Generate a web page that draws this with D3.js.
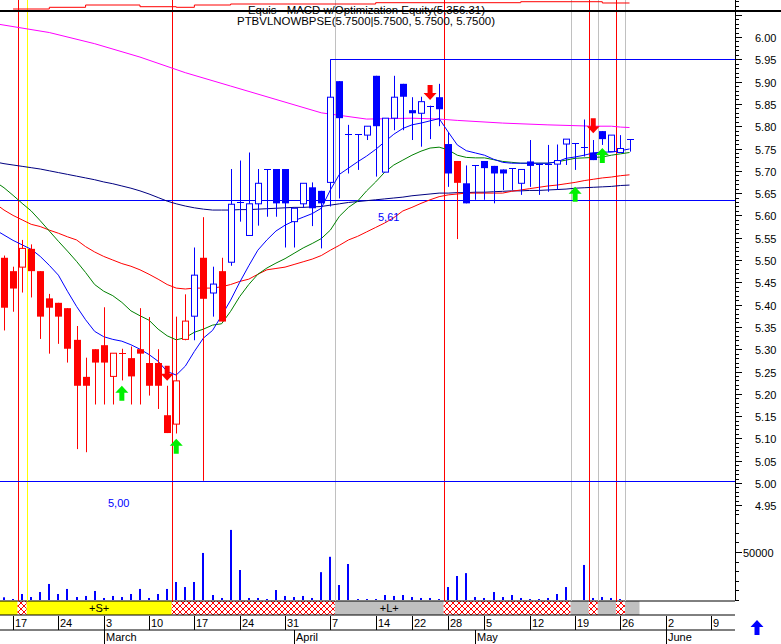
<!DOCTYPE html>
<html><head><meta charset="utf-8">
<script src="https://cdn.jsdelivr.net/npm/d3@7/dist/d3.min.js"></script>
<style>body{margin:0;background:#fff}svg{display:block;font-family:Arial,"Liberation Sans",sans-serif}</style>
</head><body><svg id="c" width="781" height="644"></svg>
<script>
// ---------- DATA ----------
const dates = ["02-14","02-17","02-18","02-19","02-20","02-21","02-24","02-25","02-26","02-27","02-28",
"03-03","03-04","03-05","03-06","03-07","03-10","03-11","03-12","03-13","03-14","03-17","03-18","03-19","03-20","03-21","03-24","03-25","03-26","03-27","03-28","03-31",
"04-01","04-02","04-03","04-04","04-07","04-08","04-09","04-10","04-11","04-14","04-15","04-16","04-17","04-22","04-23","04-24","04-25","04-28","04-29","04-30",
"05-02","05-05","05-06","05-07","05-08","05-09","05-12","05-13","05-14","05-15","05-16","05-19","05-20","05-21","05-22","05-23","05-26","05-27","05-28","05-29","05-30",
"06-02","06-03","06-04","06-05","06-06","06-09"];
const monthNames = {"03":"March","04":"April","05":"May","06":"June"};

const open  = [5.505,5.475,5.484,5.525,5.475,5.414,5.404,5.392,5.321,5.238,5.300,5.309,5.239,5.291,5.280,5.300,5.269,5.269,5.152,5.132,
5.322,5.374,5.505,5.426,5.475,5.495,5.629,5.555,5.626,5.704,5.704,5.704,5.586,5.626,5.663,5.655,5.674,5.901,5.782,5.782,
5.780,5.913,5.697,5.818,5.895,5.836,5.829,5.846,5.865,5.760,5.722,5.672,5.712,5.722,5.711,5.703,5.706,5.672,5.721,5.715,
5.715,5.715,5.760,5.762,5.753,5.741,5.789,5.743,5.741,5.771];
const high  = [5.510,5.485,5.545,5.535,5.475,5.424,5.404,5.392,5.352,5.281,5.300,5.394,5.291,5.301,5.306,5.392,5.372,5.300,5.218,5.373,
5.423,5.528,5.596,5.485,5.505,5.704,5.723,5.741,5.704,5.704,5.704,5.704,5.616,5.672,5.674,5.655,5.950,5.901,5.803,5.782,
5.800,5.913,5.818,5.913,5.895,5.865,5.866,5.846,5.895,5.786,5.722,5.712,5.712,5.722,5.711,5.703,5.706,5.703,5.769,5.715,
5.758,5.759,5.771,5.762,5.815,5.769,5.789,5.780,5.780,5.771];
const low   = [5.342,5.384,5.427,5.416,5.323,5.290,5.312,5.270,5.076,5.069,5.176,5.176,5.176,5.230,5.176,5.176,5.196,5.166,5.112,5.111,
5.320,5.320,5.005,5.373,5.362,5.487,5.586,5.555,5.577,5.597,5.597,5.528,5.528,5.617,5.576,5.526,5.620,5.638,5.694,5.702,
5.769,5.687,5.697,5.791,5.791,5.769,5.754,5.771,5.800,5.664,5.547,5.627,5.635,5.635,5.627,5.657,5.657,5.646,5.664,5.646,
5.653,5.657,5.713,5.702,5.732,5.724,5.758,5.743,5.741,5.743];
const close = [5.393,5.436,5.526,5.475,5.373,5.393,5.373,5.301,5.218,5.218,5.270,5.270,5.291,5.291,5.239,5.290,5.218,5.218,5.112,5.229,
5.363,5.466,5.413,5.446,5.362,5.625,5.629,5.626,5.672,5.704,5.627,5.627,5.616,5.672,5.616,5.627,5.865,5.818,5.782,5.782,
5.800,5.800,5.818,5.865,5.866,5.829,5.855,5.846,5.838,5.694,5.673,5.627,5.712,5.706,5.694,5.694,5.706,5.703,5.711,5.715,
5.715,5.723,5.771,5.762,5.753,5.724,5.771,5.780,5.750,5.771];
const candleTone = ["S","S","S","S","S","S","S","S","S","S","S","S","S","S","S","S","S","S","S","S",
"S","L","S","L","S","L","L","L","L","L","L","L","L","L","L","L","L","L","L","L",
"L","L","L","L","L","L","L","L","L","L","S","L","L","L","L","L","L","L","L","L",
"L","L","L","L","L","L","L","L","L","L"];
const volume = [2800,1000,6250,3100,8300,16700,6250,11500,3100,4200,9400,2100,4200,3100,6250,11500,2100,6250,11500,18750,
13500,18750,49000,5200,2100,73000,31250,2100,2100,1000,10400,4200,3100,4200,2100,29000,45000,15600,37500,1000,
1000,1000,5200,4200,5200,3100,2100,2100,1000,13500,25000,28000,3100,2100,8300,3100,5200,2100,1000,1000,
2100,6250,13500,0,36500,2100,3100,2100,1000,0];

// moving averages, first value belongs to the day before the first date
const maFast = [5.568,5.556,5.544,5.534,5.524,5.508,5.488,5.466,5.43,5.396,5.366,5.340,5.328,5.322,5.318,5.31,5.300,5.288,5.273,5.250,5.242,
5.262,5.295,5.325,5.342,5.375,5.41,5.45,5.487,5.522,5.545,5.565,5.578,5.588,5.596,5.604,5.616,5.657,5.692,5.706,5.720,
5.733,5.748,5.765,5.782,5.795,5.803,5.807,5.812,5.817,5.787,5.758,5.745,5.740,5.735,5.726,5.719,5.717,5.717,5.717,5.717,
5.717,5.72,5.728,5.731,5.735,5.740,5.742,5.742,5.745,5.749];
const maMid = [5.676,5.662,5.645,5.627,5.610,5.588,5.565,5.542,5.52,5.497,5.472,5.445,5.43,5.42,5.405,5.386,5.375,5.365,5.345,5.33,5.321,
5.326,5.338,5.345,5.354,5.357,5.385,5.418,5.445,5.468,5.482,5.493,5.503,5.515,5.527,5.537,5.548,5.567,5.598,5.618,5.632,
5.655,5.675,5.697,5.713,5.724,5.735,5.744,5.751,5.753,5.747,5.735,5.730,5.729,5.729,5.725,5.721,5.719,5.717,5.717,5.717,
5.717,5.72,5.724,5.728,5.729,5.73,5.731,5.735,5.738,5.741];
const maSlow = [5.627,5.612,5.600,5.590,5.580,5.575,5.567,5.560,5.552,5.545,5.530,5.518,5.508,5.500,5.492,5.486,5.478,5.468,5.457,5.445,5.437,
5.435,5.437,5.437,5.437,5.440,5.445,5.452,5.457,5.468,5.478,5.481,5.484,5.49,5.496,5.502,5.510,5.522,5.533,5.545,5.553,
5.563,5.573,5.583,5.595,5.610,5.618,5.627,5.635,5.642,5.646,5.648,5.650,5.650,5.650,5.650,5.650,5.654,5.657,5.66,5.663,
5.666,5.668,5.671,5.674,5.678,5.681,5.684,5.686,5.689,5.691];
const maLong = [5.72,5.716,5.713,5.71,5.707,5.704,5.70,5.696,5.692,5.688,5.684,5.68,5.675,5.671,5.666,5.661,5.655,5.648,5.640,5.632,5.626,
5.621,5.617,5.614,5.612,5.612,5.612,5.613,5.613,5.614,5.615,5.616,5.617,5.618,5.618,5.619,5.620,5.623,5.626,5.629,5.631,
5.633,5.635,5.637,5.639,5.641,5.644,5.646,5.648,5.650,5.650,5.651,5.651,5.652,5.652,5.653,5.654,5.655,5.655,5.656,5.656,
5.657,5.658,5.659,5.661,5.662,5.663,5.664,5.665,5.667,5.668];
const maTopDays = [-1,5,10,15,20,25,30,35,40,45,48,50,55,60,65,67,68,69];
const maTop     = [6.030,6.010,5.985,5.955,5.920,5.890,5.860,5.830,5.816,5.818,5.816,5.813,5.807,5.803,5.800,5.800,5.798,5.797];

const equityDays = [1,5,9,15,19,21,25,41,57,66,69];
const equity     = [4922,5045,5211,5088,5045,5211,5283,5377,5449,5356,5356.31];

const levelSupport = 5.635, levelResist = 5.95, levelFloor = 5.00;
const resistStartDay = 36;

const buyDays = [13,19,63,66],  buyTips  = [5.218,5.099,5.664,5.751];
const sellDays = [18,47,65],    sellTips = [5.229,5.859,5.784];

const signalLineDays  = [1.5,2.5,18.5,36.5,48.5,62.5,64.5,65.5,67.5,68.5];
const signalLineKinds = ["exit","short","exit","long","exit","long","exit","long","exit","long"];

const bandStart = [-1,1.5,2.5,18.5,36.5,48.5,62.5,64.5,65.5,67.5,68.5];
const bandEnd   = [1.5,2.5,18.5,36.5,48.5,62.5,64.5,65.5,67.5,68.5,70.1];
const bandKind  = ["S","X","S","X","L","X","L","X","L","X","L"];
const bandText  = ["","","+S+","","+L+","","","","","",""];

const priceTicks = d3.range(493,609).map(v=>v/100);
const volTicks = [0,10000,20000,30000,40000,50000,60000,70000,80000];

const titleText = "Equis - MACD  w/Optimization Equity(5,356.31)";
const subTitleText = "PTBVLNOWBPSE(5.7500|5.7500, 5.7500, 5.7500)";

// ---------- DRAW ----------
const svg = d3.select("#c");
const RED="#ff0000", BLUE="#0000ff", GRAY="#c0c0c0";
const x = d3.scaleLinear().domain([0,78]).range([4,711.1]);
const y = d3.scaleLinear().domain([5,6]).range([483,37]);
const yVol = d3.scaleLinear().domain([0,50000]).range([600,552]);
const yEq = d3.scaleLinear().domain([4850,5500]).range([10,1]);
const AX = 735;

const defs = svg.append("defs");
const pat = defs.append("pattern").attr("id","hatch").attr("width",6).attr("height",6).attr("patternUnits","userSpaceOnUse");
pat.append("rect").attr("width",6).attr("height",6).attr("fill","#fff");
pat.append("path").attr("d","M0,0L6,6M6,0L0,6M-1,5L1,7M5,-1L7,1").attr("stroke",RED).attr("stroke-width",1);
defs.append("clipPath").attr("id","plot").append("rect").attr("x",0).attr("y",12).attr("width",AX).attr("height",589);

// band
const band = svg.append("g");
bandKind.forEach((k,i)=>{
  const x0 = Math.max(0,x(bandStart[i])), x1 = x(bandEnd[i]);
  band.append("rect").attr("x",x0).attr("y",601).attr("width",x1-x0).attr("height",14)
    .attr("fill", k==="S" ? "#ffff00" : k==="L" ? GRAY : "url(#hatch)");
  if (bandText[i]) band.append("text").attr("x",(x0+x1)/2).attr("y",612).attr("text-anchor","middle")
    .attr("font-size",11).text(bandText[i]);
});
[601,615,630].forEach(v=>svg.append("line").attr("x1",0).attr("x2",AX).attr("y1",v).attr("y2",v).attr("stroke","#000"));

// signal lines
const lineColor = {exit:RED, short:"#ffff00", long:GRAY};
signalLineDays.forEach((d,i)=>{
  svg.append("line").attr("x1",Math.round(x(d))+0.5).attr("x2",Math.round(x(d))+0.5).attr("y1",0).attr("y2",601)
    .attr("stroke",lineColor[signalLineKinds[i]]);
});

// equity curve on top
svg.append("path").datum(equityDays.map((d,i)=>[d,equity[i]]))
  .attr("d", d3.line().x(d=>x(d[0])).y(d=>yEq(d[1])).curve(d3.curveStepAfter))
  .attr("fill","none").attr("stroke",RED);
svg.append("line").attr("x1",0).attr("x2",781).attr("y1",11).attr("y2",11).attr("stroke","#000").attr("stroke-width",2);

const plot = svg.append("g").attr("clip-path","url(#plot)");
// levels
plot.append("line").attr("x1",0).attr("x2",AX).attr("y1",Math.round(y(levelSupport))+0.5).attr("y2",Math.round(y(levelSupport))+0.5).attr("stroke",BLUE);
plot.append("line").attr("x1",0).attr("x2",AX).attr("y1",Math.round(y(levelFloor))-1.5).attr("y2",Math.round(y(levelFloor))-1.5).attr("stroke",BLUE);
plot.append("line").attr("x1",x(resistStartDay)).attr("x2",AX).attr("y1",Math.round(y(levelResist))+0.5).attr("y2",Math.round(y(levelResist))+0.5).attr("stroke",BLUE);
svg.append("text").attr("x",378).attr("y",y(levelSupport)+21).attr("fill",BLUE).attr("font-size",11).text("5,61");
svg.append("text").attr("x",108).attr("y",y(levelFloor)+24).attr("fill",BLUE).attr("font-size",11).text("5,00");

// MAs
const lineFn = d3.line().x(d=>x(d[0])).y(d=>y(d[1]));
const maSeries = [[maLong,"#000080"],[maSlow,RED],[maMid,"#008000"],[maFast,BLUE]];
plot.append("path").datum(maTopDays.map((d,i)=>[d,maTop[i]])).attr("d",lineFn).attr("fill","none").attr("stroke","#ff00ff");
maSeries.forEach(([arr,c])=>{
  plot.append("path").datum(arr.map((v,i)=>[i-1,v])).attr("d",lineFn).attr("fill","none").attr("stroke",c);
});

// candles
const cg = plot.append("g");
open.forEach((o,i)=>{
  const c = close[i], col = candleTone[i]==="S" ? RED : BLUE;
  const cx = Math.round(x(i))+0.5;
  cg.append("line").attr("x1",cx).attr("x2",cx).attr("y1",y(high[i])).attr("y2",y(low[i])).attr("stroke",col);
  const top = y(Math.max(o,c)), bot = y(Math.min(o,c));
  if (Math.abs(o-c) < 0.001) {
    cg.append("line").attr("x1",cx-3.5).attr("x2",cx+3.5).attr("y1",Math.round(top)+0.5).attr("y2",Math.round(top)+0.5).attr("stroke",col);
  } else if (c > o) {
    cg.append("rect").attr("x",cx-3).attr("y",top).attr("width",6).attr("height",bot-top).attr("fill","#fff").attr("stroke",col);
  } else {
    cg.append("rect").attr("x",cx-3.5).attr("y",top).attr("width",7).attr("height",bot-top).attr("fill",col);
  }
});

// arrows
function upArrow(cx,ty){return `M${cx},${ty}L${cx+6.5},${ty+7}L${cx+2.5},${ty+7}L${cx+2.5},${ty+15}L${cx-2.5},${ty+15}L${cx-2.5},${ty+7}L${cx-6.5},${ty+7}Z`;}
function downArrow(cx,by){return `M${cx},${by}L${cx+6.5},${by-7}L${cx+2.5},${by-7}L${cx+2.5},${by-15}L${cx-2.5},${by-15}L${cx-2.5},${by-7}L${cx-6.5},${by-7}Z`;}
buyDays.forEach((d,i)=>svg.append("path").attr("d",upArrow(x(d),y(buyTips[i]))).attr("fill","#00f000"));
sellDays.forEach((d,i)=>svg.append("path").attr("d",downArrow(x(d),y(sellTips[i]))).attr("fill",RED));

// volume
volume.forEach((v,i)=>{ if(!v) return;
  svg.append("rect").attr("x",Math.round(x(i))-1).attr("y",yVol(v)).attr("width",2).attr("height",yVol(0)-yVol(v)).attr("fill",BLUE);
});

// right axis
svg.append("line").attr("x1",AX+0.5).attr("x2",AX+0.5).attr("y1",0).attr("y2",601).attr("stroke","#000");
priceTicks.forEach(p=>{
  const yy = Math.round(y(p))+0.5, major = Math.round(p*100)%5===0;
  if (yy<0||yy>520) return;
  svg.append("line").attr("x1",AX).attr("x2",AX+(major?7:4)).attr("y1",yy).attr("y2",yy).attr("stroke","#000");
  if (major && p<=6.0001 && p>=4.9499) svg.append("text").attr("x",755).attr("y",yy+4).attr("font-size",11).text(p.toFixed(2));
});
volTicks.forEach(v=>{
  const yy = Math.round(yVol(v))+0.5;
  svg.append("line").attr("x1",AX).attr("x2",AX+(v===50000?7:4)).attr("y1",yy).attr("y2",yy).attr("stroke","#000");
  if (v===50000) svg.append("text").attr("x",743).attr("y",yy+4).attr("font-size",11).text("50000");
});

// date axis
dates.forEach((d,i)=>{
  if (i===0) return;
  const prev = new Date("2003-"+dates[i-1]), cur = new Date("2003-"+d);
  const xx = Math.round(x(i))+0.5;
  if ((cur-prev)/864e5 >= 3) {
    svg.append("line").attr("x1",xx).attr("x2",xx).attr("y1",616).attr("y2",630).attr("stroke","#000");
    svg.append("text").attr("x",xx+1.5).attr("y",627).attr("font-size",11).text(+d.slice(3));
  }
  if (d.slice(0,2)!==dates[i-1].slice(0,2)) {
    svg.append("line").attr("x1",xx).attr("x2",xx).attr("y1",630).attr("y2",644).attr("stroke","#000");
    svg.append("text").attr("x",xx+1.5).attr("y",641).attr("font-size",11).text(monthNames[d.slice(0,2)]);
  }
});
svg.append("path").attr("d",upArrow(757,620)).attr("fill",BLUE);

// titles
svg.append("text").attr("x",248).attr("y",14).attr("font-size",11)
  .attr("textLength",237).attr("lengthAdjust","spacingAndGlyphs").text(titleText);
svg.append("text").attr("x",237).attr("y",25).attr("font-size",11)
  .attr("textLength",258).attr("lengthAdjust","spacingAndGlyphs").text(subTitleText);
</script></body></html>
